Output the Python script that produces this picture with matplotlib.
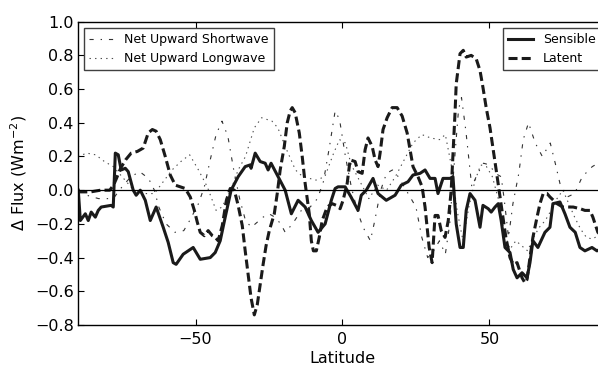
import matplotlib
matplotlib.use("Agg")
import matplotlib.pyplot as plt
from matplotlib.lines import Line2D

plt.rcParams['font.family'] = ['DejaVu Sans']
plt.rcParams['mathtext.fontset'] = 'dejavusans'
plt.rcParams['lines.scale_dashes'] = False

# Sensible heat flux change
lat_sens = [-89.9, -89.2, -87.5, -86.5, -85.5, -84.1, -83.1, -82.1, -78.7, -78.0,
            -77.3, -76.3, -75.3, -73.9, -72.9, -71.2, -70.2, -68.8, -67.1, -65.4,
            -63.4, -61.0, -59.3, -57.6, -56.6, -54.2, -50.8, -48.4, -45.0, -43.3,
            -41.6, -39.9, -37.9, -35.5, -33.1, -31.4, -31.1, -29.7, -28.0, -26.3,
            -25.3, -24.3, -21.9, -19.5, -17.4, -15.1, -12.7, -10.6, -8.3, -5.9,
            -3.8, -2.5, -1.5, 0.9, 2.9, 5.3, 6.4, 8.1, 10.4, 12.1,
            14.9, 17.9, 20.0, 22.3, 24.0, 26.4, 28.1, 29.8, 31.5, 32.5,
            34.2, 36.6, 37.6, 38.7, 40.0, 41.1, 42.1, 43.4, 45.1, 46.8,
            47.8, 49.6, 50.6, 51.9, 53.0, 54.0, 55.3, 57.0, 58.1, 59.4,
            61.1, 62.8, 63.8, 64.8, 66.5, 68.9, 70.6, 71.6, 74.0, 75.7,
            77.4, 79.2, 80.8, 82.5, 84.9, 86.6, 90.0]
sensible = [0.00, -0.18, -0.14, -0.18, -0.13, -0.16, -0.12, -0.10, -0.09, -0.10,
            0.22, 0.21, 0.12, 0.13, 0.11, 0.00, -0.03, 0.00, -0.06, -0.18,
            -0.10, -0.22, -0.31, -0.43, -0.44, -0.38, -0.34, -0.41, -0.40, -0.37,
            -0.30, -0.16, 0.00, 0.08, 0.14, 0.15, 0.13, 0.22, 0.17, 0.16,
            0.12, 0.16, 0.08, 0.00, -0.14, -0.06, -0.10, -0.18, -0.25, -0.20,
            -0.06, 0.01, 0.02, 0.02, -0.04, -0.12, -0.03, 0.00, 0.07, -0.02,
            -0.06, -0.03, 0.03, 0.05, 0.09, 0.10, 0.12, 0.07, 0.07, -0.02,
            0.07, 0.07, 0.08, -0.20, -0.34, -0.34, -0.12, -0.02, -0.06, -0.22,
            -0.09, -0.11, -0.13, -0.10, -0.08, -0.18, -0.34, -0.37, -0.47, -0.52,
            -0.49, -0.52, -0.43, -0.30, -0.34, -0.25, -0.22, -0.08, -0.07, -0.14,
            -0.22, -0.25, -0.34, -0.36, -0.34, -0.36, -0.33]

# Latent heat flux change
lat_lat = [-89.9, -85.7, -82.3, -79.2, -77.9, -76.9, -75.5, -73.8, -71.9, -69.8,
           -67.8, -66.1, -64.7, -63.4, -62.0, -60.3, -58.6, -56.9, -55.2, -53.5,
           -51.8, -50.4, -49.4, -48.4, -47.0, -45.7, -44.3, -43.3, -42.3, -40.9,
           -39.5, -38.2, -36.8, -35.5, -34.1, -33.1, -32.1, -31.1, -30.0, -29.0,
           -28.0, -27.0, -26.0, -24.9, -23.2, -22.2, -21.2, -19.8, -18.8, -17.8,
           -17.1, -16.1, -14.7, -13.7, -12.7, -11.3, -10.6, -9.9, -8.9, -7.9,
           -6.9, -5.2, -3.5, -2.1, -0.8, 0.2, 1.6, 2.6, 4.3, 5.3,
           6.7, 7.7, 8.7, 10.1, 11.1, 12.1, 12.8, 13.8, 15.2, 16.9,
           18.6, 20.3, 22.0, 23.0, 24.0, 25.7, 27.1, 28.1, 28.8, 29.5,
           30.5, 31.5, 32.5, 33.6, 34.9, 36.0, 37.0, 37.7, 38.3, 38.7,
           40.0, 41.1, 42.1, 43.8, 45.5, 46.8, 47.8, 48.9, 50.2, 51.3,
           52.3, 53.6, 54.6, 55.6, 57.0, 58.1, 59.4, 61.1, 62.1, 62.8,
           63.8, 64.8, 66.2, 67.2, 68.3, 69.6, 70.6, 73.0, 75.0, 78.5,
           80.9, 82.5, 84.2, 85.2, 86.9, 90.0]
latent = [-0.01, -0.01, 0.00, 0.00, 0.03, 0.07, 0.13, 0.18, 0.22, 0.23,
          0.25, 0.34, 0.36, 0.35, 0.30, 0.20, 0.09, 0.03, 0.02, 0.01,
          -0.04, -0.12, -0.19, -0.25, -0.27, -0.24, -0.27, -0.28, -0.30, -0.21,
          -0.06, 0.01, 0.00, -0.09, -0.21, -0.36, -0.50, -0.64, -0.74, -0.68,
          -0.56, -0.44, -0.33, -0.24, -0.14, -0.02, 0.12, 0.26, 0.40, 0.47,
          0.49, 0.46, 0.34, 0.20, 0.04, -0.14, -0.30, -0.36, -0.36, -0.28,
          -0.18, -0.10, -0.08, -0.09, -0.11, -0.06, 0.04, 0.18, 0.17, 0.11,
          0.10, 0.24, 0.31, 0.26, 0.18, 0.14, 0.22, 0.36, 0.43, 0.49,
          0.49, 0.44, 0.34, 0.24, 0.14, 0.08, 0.02, -0.10, -0.22, -0.34,
          -0.43, -0.15, -0.15, -0.24, -0.28, -0.18, 0.00, 0.25, 0.46, 0.63,
          0.81, 0.83, 0.79, 0.80, 0.78, 0.71, 0.61, 0.49, 0.37, 0.24,
          0.12, -0.04, -0.16, -0.28, -0.40, -0.44, -0.43, -0.52, -0.55, -0.53,
          -0.40, -0.28, -0.16, -0.08, -0.02, -0.02, -0.04, -0.08, -0.10, -0.10,
          -0.11, -0.12, -0.12, -0.16, -0.25, -0.30]

# Net upward shortwave change
lat_sw = [-90, -87, -83, -78, -75, -72, -69, -66, -64, -62.5,
          -60, -57, -54, -52, -49, -47, -45, -43, -41, -39,
          -37, -35, -33, -31, -29, -27, -25, -23, -21, -19.5,
          -17, -14, -11, -8.5, -6.5, -4.5, -2.5, -1, 1, 3,
          5, 7, 9.5, 11, 13, 15, 17, 19, 21, 23,
          25, 27, 29, 31, 33, 35, 36.5, 38, 39.5, 40.5,
          42, 44, 46, 48, 50, 52, 54, 55, 56.5, 58,
          60, 61.5, 63.3, 65.6, 68, 70.7, 72.4, 74, 76.5, 79,
          81.6, 85, 87, 90]
shortwave = [0.00, -0.03, -0.05, -0.05, 0.02, 0.08, 0.11, 0.07, 0.00, -0.10,
             -0.20, -0.25, -0.24, -0.18, -0.08, 0.02, 0.18, 0.33, 0.41, 0.32,
             0.12, -0.05, -0.18, -0.22, -0.19, -0.16, -0.14, -0.16, -0.20, -0.25,
             -0.20, -0.12, -0.10, -0.05, 0.05, 0.25, 0.47, 0.42, 0.20, 0.02,
             -0.12, -0.22, -0.30, -0.18, 0.00, 0.10, 0.12, 0.08, 0.02, -0.04,
             -0.10, -0.28, -0.40, -0.36, -0.30, -0.38, -0.20, 0.15, 0.48, 0.55,
             0.35, 0.02, 0.10, 0.16, 0.15, 0.10, 0.08, -0.05, -0.28, -0.08,
             0.10, 0.30, 0.40, 0.28, 0.20, 0.28, 0.16, 0.04, -0.04, -0.02,
             0.08, 0.14, 0.16, 0.17]

# Net upward longwave change
lat_lw = [-90, -87, -84, -81, -78, -76, -73, -71, -67, -64,
          -61, -58, -55, -52, -49, -46, -43, -41, -38, -35.5,
          -33, -30, -27.5, -24, -22, -19, -16, -13.5, -9, -6,
          -3, -1, 1, 3, 6, 9, 12, 15, 18, 21,
          24, 27, 30, 33, 35, 37, 39, 41, 43, 45,
          47, 49, 51, 53, 55, 57, 59, 61, 63, 65,
          67, 69, 71, 73, 75, 77, 79, 81, 83, 85,
          87, 90]
longwave = [0.20, 0.22, 0.21, 0.17, 0.14, 0.10, 0.04, 0.00, -0.02, -0.02,
            0.05, 0.12, 0.17, 0.21, 0.12, 0.02, -0.12, -0.10, 0.00, 0.12,
            0.20, 0.37, 0.43, 0.41, 0.37, 0.24, 0.12, 0.08, 0.06, 0.08,
            0.22, 0.30, 0.28, 0.15, 0.05, -0.05, 0.03, 0.00, 0.08, 0.18,
            0.28, 0.33, 0.31, 0.30, 0.33, 0.15, -0.12, -0.30, -0.10, 0.05,
            0.15, 0.14, 0.08, -0.05, -0.25, -0.35, -0.30, -0.33, -0.36, -0.28,
            -0.22, -0.18, -0.12, -0.05, 0.00, -0.08, -0.16, -0.23, -0.28, -0.29,
            -0.27, -0.25]

fig = plt.figure(figsize=(5.98, 3.65), dpi=100)
ax = fig.add_axes([0.1304, 0.1096, 0.8846, 0.831])

sw_line, = ax.plot(lat_sw, shortwave, color='0.2', lw=0.8,
                   dashes=(3, 5, 1, 5), label='Net Upward Shortwave')
lw_line, = ax.plot(lat_lw, longwave, color='0.3', lw=0.8,
                   dashes=(1, 3), label='Net Upward Longwave')
sens_line, = ax.plot(lat_sens, sensible, color='#1a1a1a', lw=2.2,
                     label='Sensible')
lat_line, = ax.plot(lat_lat, latent, color='#1a1a1a', lw=2.2,
                    dashes=(6.5, 3), label='Latent')
ax.axhline(0, color='k', lw=0.9)

ax.set_xlim(-90, 90)
ax.set_ylim(-0.8, 1.0)
ax.set_xticks([-50, 0, 50])
ax.set_yticks([-0.8, -0.6, -0.4, -0.2, 0.0, 0.2, 0.4, 0.6, 0.8, 1.0])
ax.set_yticklabels(['\u22120.8', '\u22120.6', '\u22120.4', '\u22120.2', '0.0',
                    '0.2', '0.4', '0.6', '0.8', '1.0'])
ax.set_xticklabels(['\u221250', '0', '50'])
ax.tick_params(direction='in', length=4, width=0.8, labelsize=11.5,
               top=True, right=True, pad=3)
ax.tick_params(axis='x', pad=5)
for s in ax.spines.values():
    s.set_linewidth(1.0)

ax.set_xlabel('Latitude', fontsize=11.5, labelpad=3)
ax.set_ylabel('\u0394 Flux (Wm$^{-2}$)', fontsize=11.5, labelpad=4)

leg1 = ax.legend(handles=[sw_line, lw_line], loc='upper left', fontsize=9,
                 fancybox=False, edgecolor='0.25', framealpha=1)
leg1.get_frame().set_linewidth(1.0)
ax.add_artist(leg1)
leg2 = ax.legend(handles=[sens_line, lat_line], loc='upper right', fontsize=9,
                 fancybox=False, edgecolor='0.25', framealpha=1)
leg2.get_frame().set_linewidth(1.0)

fig.savefig('out.png', dpi=100)
